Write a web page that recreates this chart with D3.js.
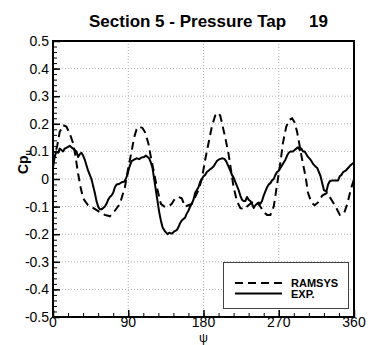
<!DOCTYPE html>
<html><head><meta charset="utf-8">
<script src="https://cdn.jsdelivr.net/npm/d3@7"></script>
<style>body{margin:0;background:#fff}svg{display:block}</style>
</head><body><svg id="c" width="376" height="345"></svg>
<script>
const titleText = "Section 5 - Pressure Tap";
const tapNumber = "19";
const seriesNames = ["RAMSYS", "EXP."];
const xTicks = [0, 90, 180, 270, 360];
const yTicks = [-0.5, -0.4, -0.3, -0.2, -0.1, 0, 0.1, 0.2, 0.3, 0.4, 0.5];
const yTickLabels = ["-0.5","-0.4","-0.3","-0.2","-0.1","0","0.1","0.2","0.3","0.4","0.5"];

const ramsysPsi = [0,5,8,12,16,20,24,27,30,33,36,42,48,56,62,68,74,80,86,90,94,97,100,103,107,110,114,117,121,125,129,133,138,142,146,150,154,158,162,166,170,174,178,182,186,190,194,197,200,203,206,210,213,216,220,224,228,232,236,240,244,248,252,256,260,264,268,272,275,279,283,286,289,292,295,298,302,305,309,313,317,322,328,333,338,343,348,352,356,360];
const ramsysCp = [0.06,0.12,0.17,0.195,0.19,0.165,0.13,0.08,0.02,-0.03,-0.07,-0.095,-0.105,-0.12,-0.13,-0.135,-0.115,-0.09,-0.03,0.04,0.1,0.15,0.18,0.19,0.185,0.17,0.13,0.08,0.02,-0.04,-0.09,-0.1,-0.1,-0.09,-0.07,-0.065,-0.07,-0.1,-0.095,-0.09,-0.065,-0.04,0.0,0.07,0.13,0.19,0.23,0.24,0.23,0.19,0.15,0.09,0.03,-0.03,-0.08,-0.105,-0.11,-0.1,-0.09,-0.08,-0.085,-0.1,-0.12,-0.13,-0.13,-0.1,-0.02,0.06,0.13,0.19,0.215,0.22,0.205,0.17,0.12,0.07,0.01,-0.05,-0.085,-0.095,-0.085,-0.06,-0.05,-0.075,-0.1,-0.13,-0.125,-0.09,-0.04,0.0];

const expPsi = [0,2,4,6,8,10,12,14,17,20,22,24,26,28,30,32,34,36,38,40,42,44,46,48,50,52,54,56,58,60,62,64,66,68,70,72,74,76,79,82,85,87,89,91,94,97,100,103,106,109,111,113,115,117,119,121,123,125,127,129,131,134,137,139,142,145,148,150,152,154,156,158,160,162,164,166,168,170,172,174,176,178,180,182,184,186,188,190,192,194,196,198,202,205,207,210,212,214,216,218,220,222,224,226,228,230,232,234,236,238,240,242,244,246,248,250,252,254,256,258,260,262,264,266,268,270,272,274,276,278,280,282,284,287,289,291,293,295,297,299,301,303,305,308,311,314,316,318,320,322,324,327,329,331,334,338,341,343,345,347,350,353,356,358,360];
const expCp = [0.04,0.08,0.1,0.095,0.11,0.105,0.1,0.11,0.115,0.12,0.115,0.11,0.105,0.1,0.08,0.09,0.095,0.085,0.07,0.05,0.03,0.015,0.0,-0.025,-0.05,-0.08,-0.1,-0.11,-0.11,-0.105,-0.1,-0.09,-0.075,-0.065,-0.06,-0.05,-0.03,-0.02,-0.018,-0.012,-0.01,0.0,0.015,0.04,0.065,0.07,0.075,0.072,0.078,0.08,0.085,0.08,0.075,0.06,0.04,0.0,-0.04,-0.08,-0.12,-0.15,-0.175,-0.19,-0.2,-0.195,-0.198,-0.19,-0.185,-0.175,-0.16,-0.15,-0.145,-0.14,-0.125,-0.115,-0.1,-0.09,-0.075,-0.05,-0.04,-0.03,-0.01,0.0,0.01,0.015,0.025,0.03,0.035,0.04,0.045,0.055,0.065,0.07,0.075,0.073,0.065,0.045,0.03,0.015,0.005,-0.01,-0.025,-0.04,-0.06,-0.075,-0.08,-0.08,-0.065,-0.075,-0.08,-0.09,-0.105,-0.095,-0.09,-0.085,-0.09,-0.08,-0.06,-0.045,-0.03,-0.02,-0.015,-0.005,0.0,0.015,0.025,0.03,0.04,0.05,0.06,0.07,0.085,0.095,0.1,0.1,0.105,0.11,0.115,0.105,0.11,0.1,0.1,0.09,0.08,0.07,0.055,0.045,0.04,0.025,0.01,-0.015,-0.04,-0.045,-0.02,-0.008,-0.005,-0.005,-0.005,0.01,0.015,0.025,0.03,0.04,0.05,0.055,0.06];

const L = 53, R = 354, T = 41, B = 317;
const x = d3.scaleLinear().domain([0, 360]).range([L, R]);
const y = d3.scaleLinear().domain([-0.5, 0.5]).range([B, T]);
const svg = d3.select("#c");
const font = "'Liberation Sans', Arial, Helvetica, sans-serif";

// grid
const grid = svg.append("g").attr("stroke", "#b0b0b0").attr("stroke-width", 1).attr("stroke-dasharray", "1,2");
xTicks.slice(1, -1).forEach(v => grid.append("line").attr("x1", x(v)).attr("x2", x(v)).attr("y1", T).attr("y2", B));
yTicks.slice(1, -1).forEach(v => grid.append("line").attr("x1", L).attr("x2", R).attr("y1", y(v)).attr("y2", y(v)));

// axes with inward ticks
const xMinor = d3.range(0, 361, 18);
const yMinor = d3.range(-50, 51, 2).map(v => v / 100);
const ax = svg.append("g").attr("transform", `translate(0,${B})`);
ax.call(d3.axisTop(x).tickValues(xMinor).tickSize(4).tickFormat(""));
ax.select(".domain").remove();
const axM = svg.append("g").attr("transform", `translate(0,${B})`);
axM.call(d3.axisTop(x).tickValues(xTicks).tickSize(7).tickFormat(""));
axM.select(".domain").remove();
axM.selectAll("line").attr("stroke-width", 1.5);
const ay = svg.append("g").attr("transform", `translate(${L},0)`);
ay.call(d3.axisRight(y).tickValues(yMinor).tickSize(4).tickFormat(""));
ay.select(".domain").remove();
const ayM = svg.append("g").attr("transform", `translate(${L},0)`);
ayM.call(d3.axisRight(y).tickValues(yTicks).tickSize(7).tickFormat(""));
ayM.select(".domain").remove();
ayM.selectAll("line").attr("stroke-width", 1.5);

// tick labels
svg.append("g").selectAll("text").data(xTicks).join("text")
  .attr("x", d => x(d)).attr("y", 327).attr("text-anchor", "middle")
  .attr("font-family", font).attr("font-size", 14).text(d => d);
svg.append("g").selectAll("text").data(yTicks).join("text")
  .attr("x", 49).attr("y", d => y(d)).attr("dy", "0.36em").attr("text-anchor", "end")
  .attr("font-family", font).attr("font-size", 14).text((d, i) => yTickLabels[i]);

// clip
svg.append("clipPath").attr("id", "clip").append("rect").attr("x", L).attr("y", T).attr("width", R - L).attr("height", B - T);

const line = d3.line().x(d => x(d[0])).y(d => y(d[1]));
const ramsys = ramsysPsi.map((p, i) => [p, ramsysCp[i]]);
const exp = expPsi.map((p, i) => [p, expCp[i]]);
const plot = svg.append("g").attr("clip-path", "url(#clip)");
plot.append("path").attr("d", line(ramsys)).attr("fill", "none").attr("stroke", "#000").attr("stroke-width", 2).attr("stroke-dasharray", "8,5");
plot.append("path").attr("d", line(exp)).attr("fill", "none").attr("stroke", "#000").attr("stroke-width", 2).attr("stroke-linejoin", "round");

// frame
svg.append("rect").attr("x", L).attr("y", T).attr("width", R - L).attr("height", B - T)
  .attr("fill", "none").attr("stroke", "#000").attr("stroke-width", 2);

// legend
const lg = svg.append("g");
lg.append("rect").attr("x", 223.5).attr("y", 262.5).attr("width", 125).attr("height", 46)
  .attr("fill", "#fff").attr("stroke", "#444").attr("stroke-width", 1);
lg.append("line").attr("x1", 235).attr("x2", 282).attr("y1", 283).attr("y2", 283)
  .attr("stroke", "#000").attr("stroke-width", 2).attr("stroke-dasharray", "8,5");
lg.append("line").attr("x1", 235).attr("x2", 282).attr("y1", 293.5).attr("y2", 293.5)
  .attr("stroke", "#000").attr("stroke-width", 2);
lg.append("text").attr("x", 291).attr("y", 286.5).attr("font-family", font).attr("font-weight", "bold").attr("font-size", 11).text(seriesNames[0]);
lg.append("text").attr("x", 291).attr("y", 297.5).attr("font-family", font).attr("font-weight", "bold").attr("font-size", 11).text(seriesNames[1]);

// title
svg.append("text").attr("x", 89).attr("y", 27).attr("font-family", font).attr("font-weight", "bold").attr("font-size", 17).text(titleText);
svg.append("text").attr("x", 328).attr("y", 27).attr("text-anchor", "end").attr("font-family", font).attr("font-weight", "bold").attr("font-size", 17).text(tapNumber);

// axis titles
const yl = svg.append("text").attr("transform", "translate(28,162) rotate(-90)").attr("text-anchor", "middle")
  .attr("font-family", font).attr("font-weight", "bold").attr("font-size", 14);
yl.append("tspan").text("Cp");
yl.append("tspan").attr("font-size", 9).attr("dy", 3).text("u");
svg.append("text").attr("x", x(180)).attr("y", 341.5).attr("text-anchor", "middle")
  .attr("font-family", font).attr("font-size", 12.5).text("ψ");
</script></body></html>
